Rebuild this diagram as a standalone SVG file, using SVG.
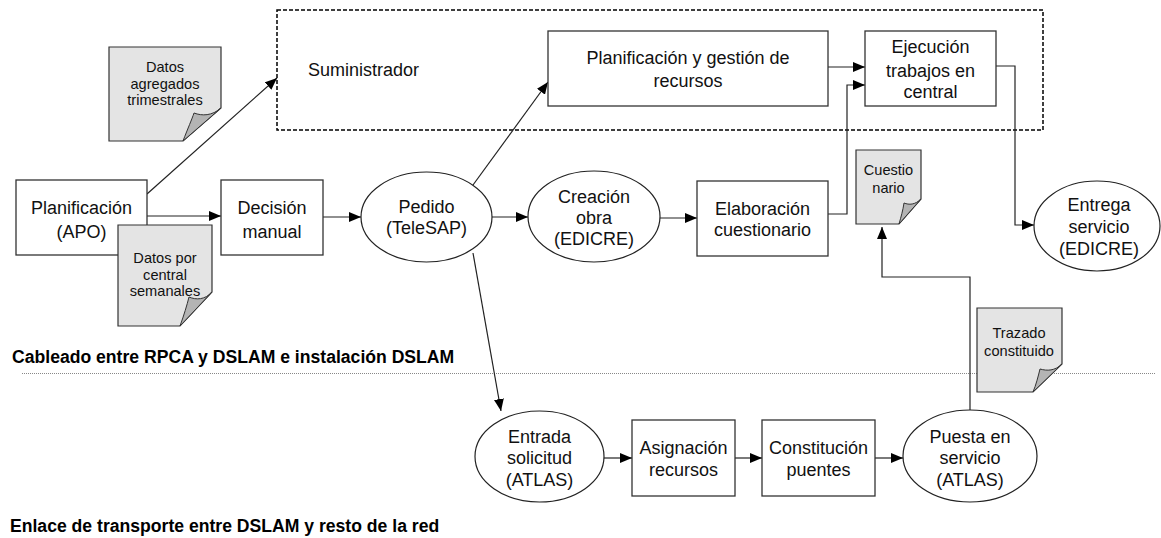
<svg xmlns="http://www.w3.org/2000/svg" width="1161" height="538" viewBox="0 0 1161 538">
<style>
.box{fill:#fff;stroke:#333;stroke-width:1.3}
.ell{fill:#fff;stroke:#222;stroke-width:1.2}
.note{fill:#e4e4e4;stroke:#333;stroke-width:1.2}
.curl{fill:#b4b4b4;stroke:#333;stroke-width:1}
.t{font-family:"Liberation Sans",Arial,sans-serif;font-size:18px;fill:#111;text-anchor:middle}
.tn{font-family:"Liberation Sans",Arial,sans-serif;font-size:14.6px;fill:#111;text-anchor:middle}
.tb{font-family:"Liberation Sans",Arial,sans-serif;font-size:17.6px;font-weight:bold;fill:#000}
.c{fill:none;stroke:#222;stroke-width:1.2}
</style>
<defs>
<marker id="ah" markerUnits="userSpaceOnUse" markerWidth="12" markerHeight="10" refX="12" refY="5" orient="auto">
<path d="M0,0 L12,5 L0,10 Z" fill="#000"/>
</marker>
</defs>

<g id="suministrador">
<rect x="277" y="10" width="766" height="120" fill="none" stroke="#000" stroke-width="1.5" stroke-dasharray="4 2"/>
<text class="t" x="308" y="76" style="text-anchor:start">Suministrador</text>
</g>

<g id="lane-labels">
<text class="tb" x="12" y="363">Cableado entre RPCA y DSLAM e instalación DSLAM</text>
<line x1="22" y1="373.5" x2="1155" y2="373.5" stroke="#888" stroke-width="1" stroke-dasharray="1 1"/>
<text class="tb" x="10" y="532">Enlace de transporte entre DSLAM y resto de la red</text>
</g>

<g id="connectors">
<line class="c" x1="147" y1="194" x2="277" y2="78" marker-end="url(#ah)"/>
<line class="c" x1="147" y1="216" x2="221" y2="216" marker-end="url(#ah)"/>
<line class="c" x1="323" y1="217" x2="361" y2="217" marker-end="url(#ah)"/>
<line class="c" x1="492" y1="217" x2="528" y2="217" marker-end="url(#ah)"/>
<line class="c" x1="660" y1="218" x2="697" y2="218" marker-end="url(#ah)"/>
<line class="c" x1="473" y1="185" x2="548" y2="82" marker-end="url(#ah)"/>
<line class="c" x1="473" y1="253" x2="501" y2="411" marker-end="url(#ah)"/>
<line class="c" x1="828" y1="67" x2="865" y2="67" marker-end="url(#ah)"/>
<polyline class="c" points="828,214 847,214 847,85 865,85" marker-end="url(#ah)"/>
<polyline class="c" points="996,66 1015,66 1015,225 1034,225" marker-end="url(#ah)"/>
<line class="c" x1="604" y1="458" x2="632" y2="458" marker-end="url(#ah)"/>
<line class="c" x1="735" y1="458" x2="762" y2="458" marker-end="url(#ah)"/>
<line class="c" x1="875" y1="458" x2="903" y2="458" marker-end="url(#ah)"/>
<polyline class="c" points="970,411 970,277 882,277 882,227" marker-end="url(#ah)"/>
</g>

<g id="n-planificacion">
<rect class="box" x="16" y="180" width="131" height="75"/>
<text class="t" x="81.5" y="214">Planificación</text>
<text class="t" x="81.5" y="238">(APO)</text>
</g>

<g id="n-datos-agregados">
<path class="note" d="M109,47 H221 V108 L183,141 H109 Z"/>
<path class="curl" d="M221,108 C212,116 202,116 194,113 C192,119 188,128 183,141 Z"/>
<text class="tn" x="165" y="72">Datos</text>
<text class="tn" x="165" y="88.5">agregados</text>
<text class="tn" x="165" y="105">trimestrales</text>
</g>

<g id="n-datos-central">
<path class="note" d="M118,225 H212 V292 L180,326 H118 Z"/>
<path class="curl" d="M212,292 C205,300 196,300 189,297 C187,305 184,315 180,326 Z"/>
<text class="tn" x="165" y="263">Datos por</text>
<text class="tn" x="165" y="279.5">central</text>
<text class="tn" x="165" y="296">semanales</text>
</g>

<g id="n-decision">
<rect class="box" x="221" y="180" width="102" height="75"/>
<text class="t" x="272" y="214">Decisión</text>
<text class="t" x="272" y="238">manual</text>
</g>

<g id="n-pedido">
<ellipse class="ell" cx="426.5" cy="217" rx="65.5" ry="45"/>
<text class="t" x="426.5" y="213">Pedido</text>
<text class="t" x="426.5" y="234">(TeleSAP)</text>
</g>

<g id="n-creacion">
<ellipse class="ell" cx="594" cy="216.5" rx="66" ry="45.5"/>
<text class="t" x="594" y="203">Creación</text>
<text class="t" x="594" y="224">obra</text>
<text class="t" x="594" y="245">(EDICRE)</text>
</g>

<g id="n-elaboracion">
<rect class="box" x="697" y="181" width="131" height="75"/>
<text class="t" x="762.5" y="215">Elaboración</text>
<text class="t" x="762.5" y="236">cuestionario</text>
</g>

<g id="n-plan-gestion">
<rect class="box" x="548" y="31" width="280" height="75"/>
<text class="t" x="688" y="64">Planificación y gestión de</text>
<text class="t" x="688" y="87">recursos</text>
</g>

<g id="n-ejecucion">
<rect class="box" x="865" y="31" width="131" height="75"/>
<text class="t" x="930.5" y="53">Ejecución</text>
<text class="t" x="930.5" y="77">trabajos en</text>
<text class="t" x="930.5" y="98">central</text>
</g>

<g id="n-cuestionario">
<path class="note" d="M856,150 H921 V199 L899,224 H856 Z"/>
<path class="curl" d="M921,199 C915,205 909,205 904,203 C903,210 901,217 899,224 Z"/>
<text class="tn" x="888.5" y="175">Cuestio</text>
<text class="tn" x="888.5" y="193">nario</text>
</g>

<g id="n-entrega">
<ellipse class="ell" cx="1097" cy="226" rx="63" ry="45"/>
<text class="t" x="1099" y="211">Entrega</text>
<text class="t" x="1099" y="233">servicio</text>
<text class="t" x="1099" y="255">(EDICRE)</text>
</g>

<g id="n-trazado">
<path class="note" d="M977,308 H1062 V364 L1033,392 H977 Z"/>
<path class="curl" d="M1062,364 C1055,371 1047,371 1040,369 C1038,377 1036,385 1033,392 Z"/>
<text class="tn" x="1019" y="338">Trazado</text>
<text class="tn" x="1019" y="356">constituido</text>
</g>

<g id="n-entrada">
<ellipse class="ell" cx="539.5" cy="456.5" rx="64.5" ry="45.5"/>
<text class="t" x="539.5" y="443">Entrada</text>
<text class="t" x="539.5" y="464">solicitud</text>
<text class="t" x="539.5" y="486">(ATLAS)</text>
</g>

<g id="n-asignacion">
<rect class="box" x="632" y="420" width="103" height="76"/>
<text class="t" x="683.5" y="454">Asignación</text>
<text class="t" x="683.5" y="476">recursos</text>
</g>

<g id="n-constitucion">
<rect class="box" x="762" y="420" width="113" height="76"/>
<text class="t" x="818.5" y="454">Constitución</text>
<text class="t" x="818.5" y="476">puentes</text>
</g>

<g id="n-puesta">
<ellipse class="ell" cx="970" cy="456" rx="67" ry="46"/>
<text class="t" x="970" y="443">Puesta en</text>
<text class="t" x="970" y="464">servicio</text>
<text class="t" x="970" y="486">(ATLAS)</text>
</g>
</svg>
